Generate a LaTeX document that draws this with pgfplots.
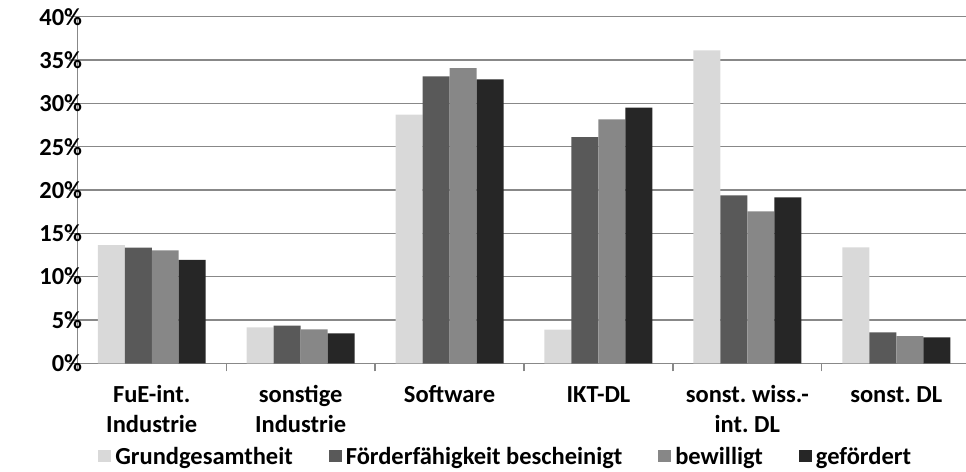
\documentclass[border=0pt]{standalone}
\usepackage{fontspec}
\setmainfont{Carlito}
\usepackage{pgfplots}
\pgfplotsset{compat=1.18}
\definecolor{cA}{HTML}{D9D9D9}
\definecolor{cB}{HTML}{595959}
\definecolor{cC}{HTML}{878787}
\definecolor{cD}{HTML}{262626}
\definecolor{gridc}{HTML}{888888}
\newcommand{\lblfont}{\fontsize{24.5bp}{30.6bp}\selectfont\bfseries\frenchspacing}
\begin{document}
\frenchspacing
\begin{tikzpicture}
\useasboundingbox (0,0) rectangle (966bp,472bp);
\begin{axis}[
  at={(77.3bp,108.7bp)}, anchor=south west,
  scale only axis, width=893.4bp, height=346.6bp,
  xmin=-0.5, xmax=5.5, ymin=0, ymax=40,
  axis x line*=bottom, axis y line*=left,
  axis line style={gridc, line width=1.3bp, -},
  tick style={gridc, line width=1.3bp},
  tick align=outside, major tick length=8bp,
  ymajorgrids, major grid style={gridc, line width=1.3bp},
  ybar=0pt, bar width=0.1813,
  xtick={-0.5,0.5,...,5.5},
  x tick label as interval,
  xticklabels={{\strut FuE-int.\\Industrie},{\strut sonstige\\Industrie},{\strut Software},{\strut IKT-DL},{\strut sonst. wiss.-\\int. DL},{\strut sonst. DL}},
  xticklabel style={align=center, anchor=north, inner sep=0pt, font=\lblfont, yshift=-9.4bp},
  ytick={0,5,...,40},
  yticklabel={\pgfmathprintnumber{\tick}\%},
  /pgf/number format/assume math mode=true,
  yticklabel style={anchor=east, inner sep=0pt, font=\lblfont, xshift=13bp},
  legend columns=-1,
  legend style={draw=none, fill=none, inner sep=0pt, at={(0.4784,-0.2914)}, anchor=south, font=\lblfont,
    nodes={inner sep=0pt, text depth=0pt},
    /tikz/every odd column/.append style={column sep=4bp},
    /tikz/every even column/.append style={column sep=36bp}},
  legend image code/.code={\fill[#1] (0bp,-6.8bp) rectangle (13bp,5.8bp);},
]
\addplot[fill=cA, draw=none] coordinates {(0,13.65) (1,4.15) (2,28.7) (3,3.88) (4,36.1) (5,13.38)};
\addplot[fill=cB, draw=none] coordinates {(0,13.34) (1,4.34) (2,33.1) (3,26.1) (4,19.38) (5,3.57)};
\addplot[fill=cC, draw=none] coordinates {(0,13.03) (1,3.92) (2,34.06) (3,28.14) (4,17.53) (5,3.15)};
\addplot[fill=cD, draw=none] coordinates {(0,11.95) (1,3.46) (2,32.76) (3,29.5) (4,19.15) (5,3.0)};
\legend{Grundgesamtheit, Förderfähigkeit bescheinigt, bewilligt, gefördert}
\end{axis}
\end{tikzpicture}
\end{document}
